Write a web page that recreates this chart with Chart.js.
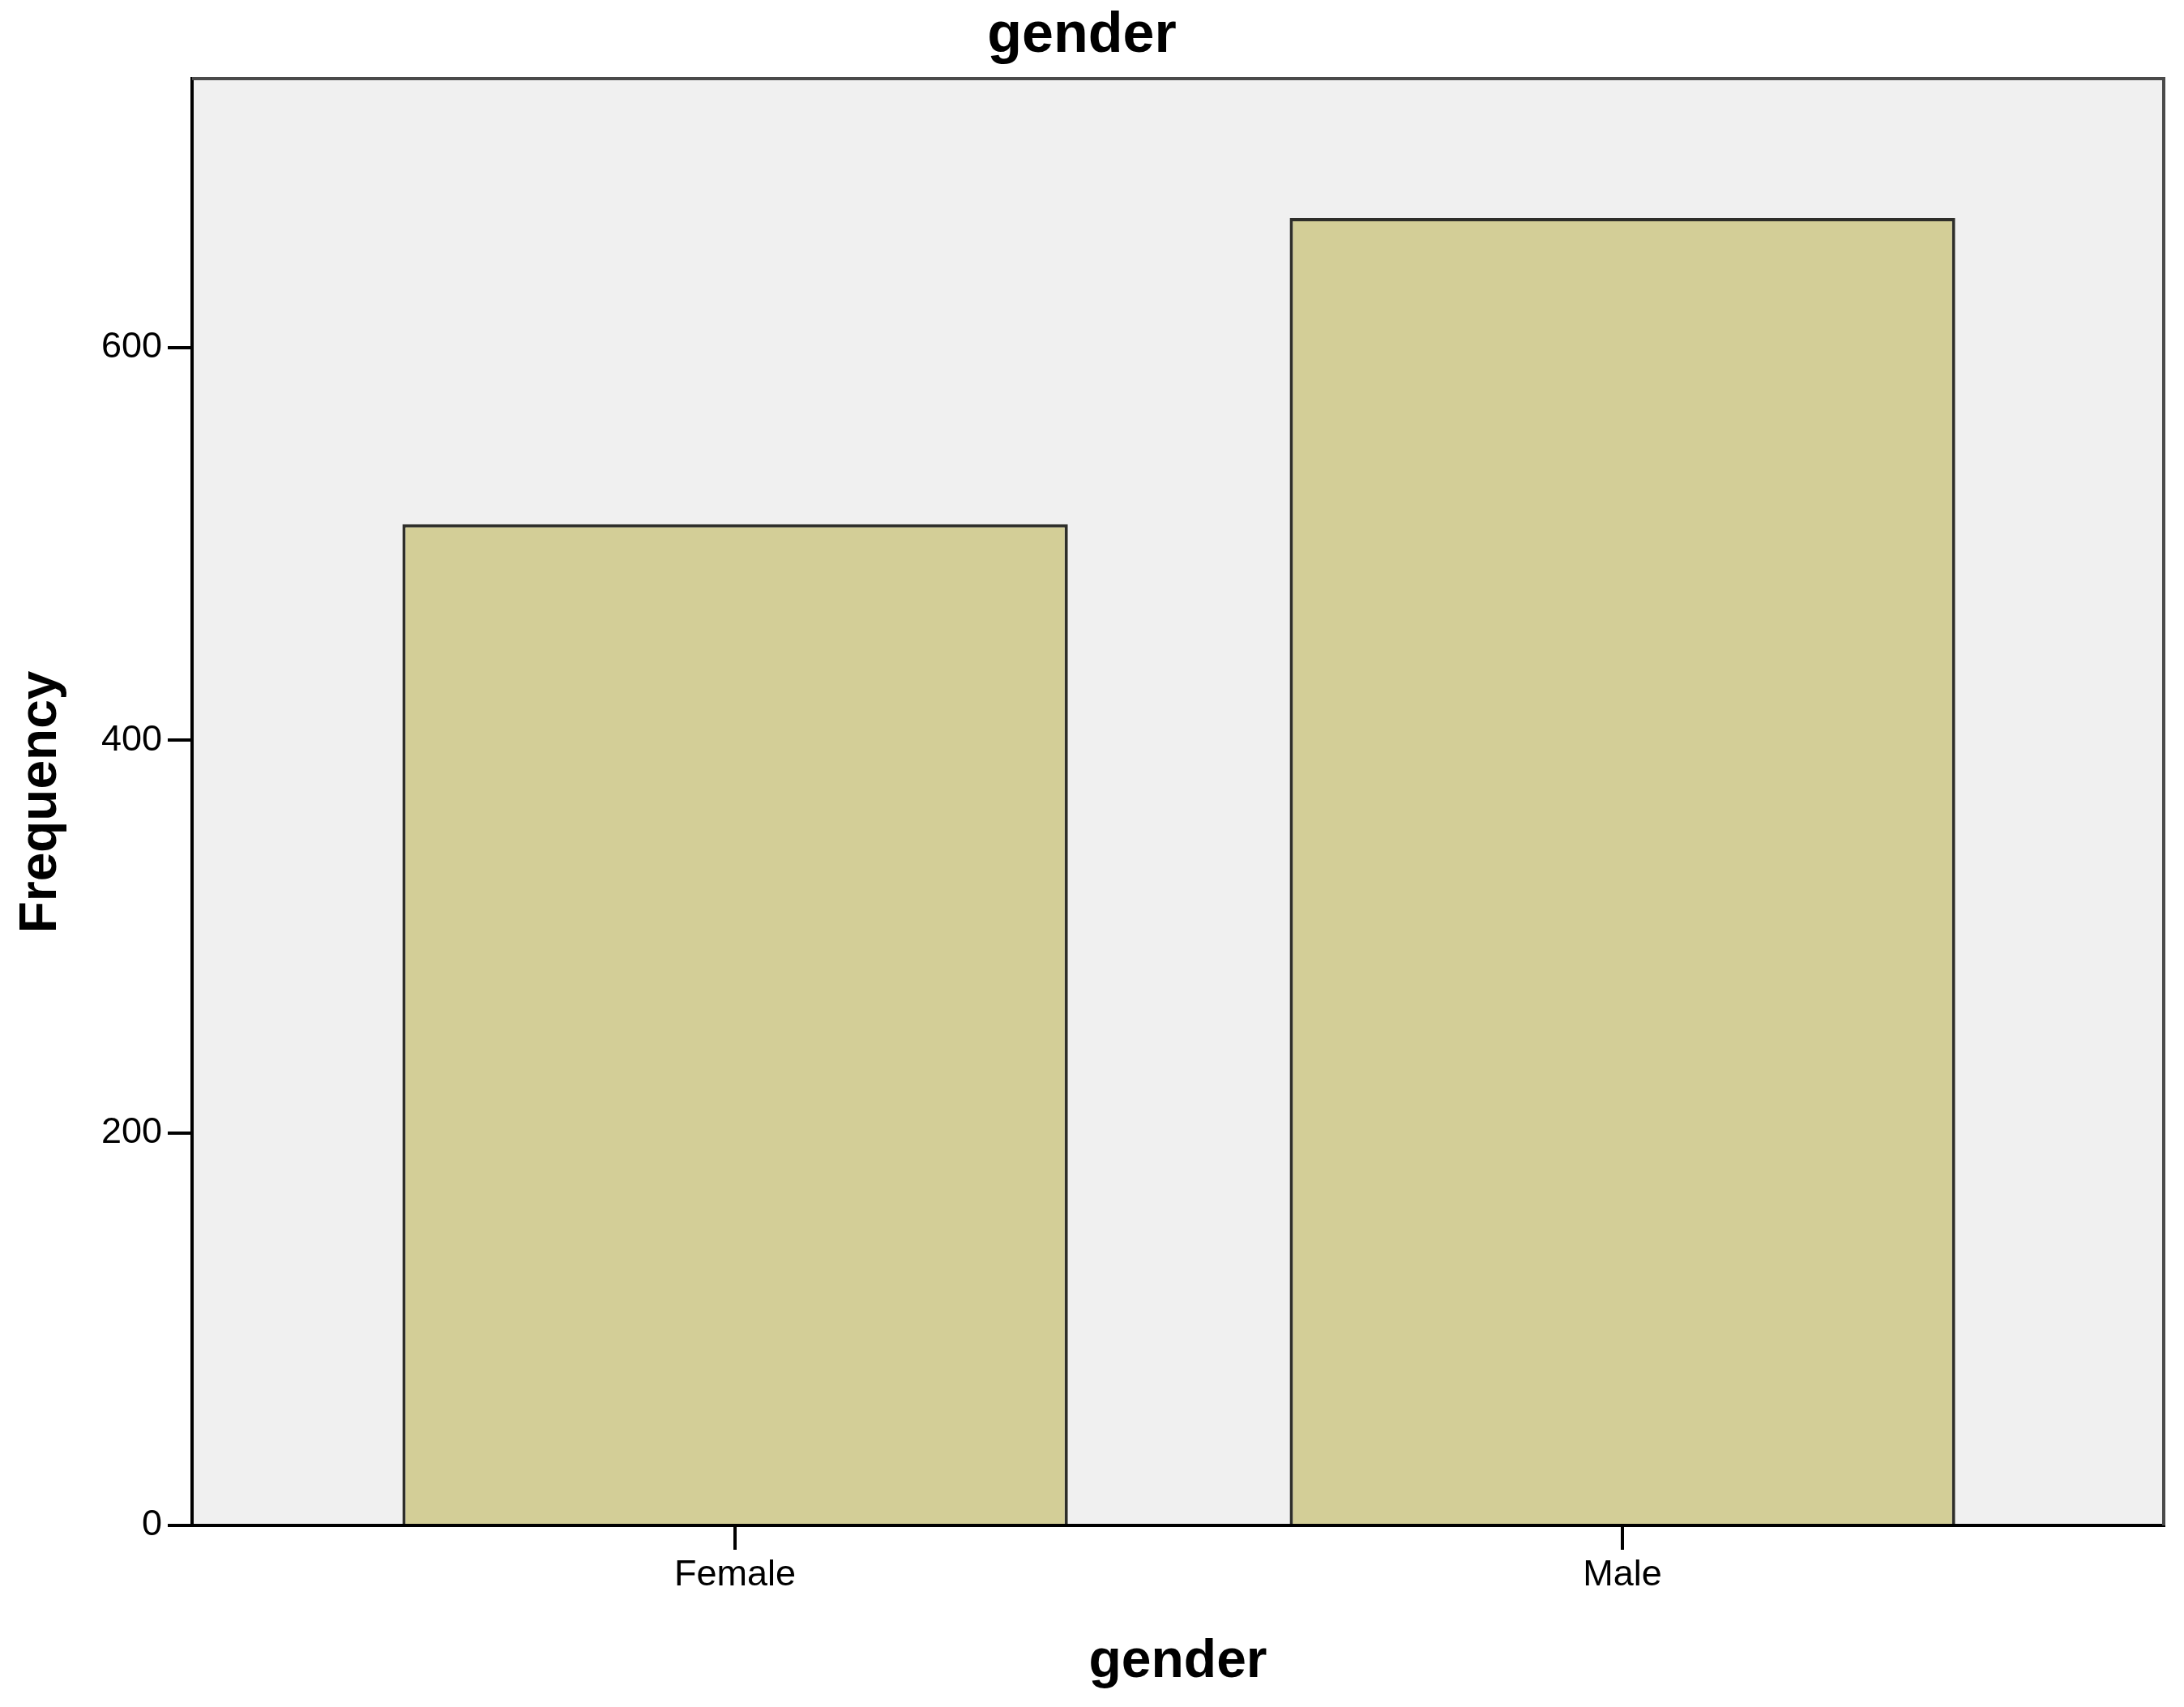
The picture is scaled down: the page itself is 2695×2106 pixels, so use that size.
<!DOCTYPE html>
<html>
<head>
<meta charset="utf-8">
<title>gender</title>
<script src="https://cdn.jsdelivr.net/npm/chart.js@4.4.0/dist/chart.umd.min.js"></script>
<style>
body { margin: 0; background: #ffffff; }
</style>
</head>
<body>
<canvas id="myChart" width="2695" height="2106"></canvas>
<script>
// Data
const categories = ["Female", "Male"];
const frequencies = [510, 666];
const yTicks = [0, 200, 400, 600];
const yMax = 737;

const fontFamily = "'Liberation Sans', Arial, sans-serif";

// grey plot background and the top/right frame lines
const plotFrame = {
    id: 'plotFrame',
    beforeDraw(chart) {
        const a = chart.chartArea;
        const ctx = chart.ctx;
        ctx.save();
        ctx.fillStyle = '#f0f0f0';
        ctx.fillRect(a.left, a.top, a.right - a.left, a.bottom - a.top);
        ctx.restore();
    },
    afterDraw(chart) {
        const a = chart.chartArea;
        const ctx = chart.ctx;
        ctx.save();
        ctx.strokeStyle = '#4a4a4a';
        ctx.lineWidth = 4;
        ctx.beginPath();
        ctx.moveTo(a.left, a.top);
        ctx.lineTo(a.right, a.top);
        ctx.lineTo(a.right, a.bottom);
        ctx.stroke();
        ctx.restore();
    }
};

const ctx = document.getElementById('myChart').getContext('2d');
const myChart = new Chart(ctx, {
    type: 'bar',
    data: {
        datasets: [{
            label: 'Frequency',
            data: frequencies.map((v, i) => ({ x: i, y: v })),
            backgroundColor: '#d3ce97',
            borderColor: '#2e2e2a',
            borderWidth: 4,
            borderSkipped: 'bottom',
            barPercentage: 0.75,
            categoryPercentage: 1
        }]
    },
    options: {
        responsive: false,
        animation: false,
        layout: { padding: { left: 0, right: 25, top: 0, bottom: 0 } },
        plugins: {
            legend: { display: false },
            tooltip: { enabled: false },
            title: {
                display: true,
                text: 'gender',
                color: '#000000',
                font: { family: fontFamily, size: 70, weight: 'bold' },
                padding: { top: 3, bottom: 10 }
            }
        },
        scales: {
            x: {
                type: 'linear',
                min: -0.612,
                max: 1.61,
                offset: false,
                afterBuildTicks: (scale) => {
                    scale.ticks = categories.map((c, i) => ({ value: i }));
                },
                afterFit: (scale) => { scale.height = 224; },
                ticks: {
                    color: '#000000',
                    font: { family: fontFamily, size: 45 },
                    padding: 5,
                    maxRotation: 0,
                    callback: (value) => categories[value]
                },
                grid: {
                    offset: false,
                    drawOnChartArea: false,
                    drawTicks: true,
                    tickLength: 30,
                    color: '#000000',
                    lineWidth: 4
                },
                border: { display: true, color: '#000000', width: 4 },
                title: {
                    display: true,
                    text: 'gender',
                    color: '#000000',
                    font: { family: fontFamily, size: 66, weight: 'bold' },
                    padding: { top: 0, bottom: 16 }
                }
            },
            y: {
                min: 0,
                max: yMax,
                afterBuildTicks: (scale) => {
                    scale.ticks = yTicks.map(v => ({ value: v }));
                },
                afterFit: (scale) => { scale.width = 237; },
                ticks: {
                    color: '#000000',
                    font: { family: fontFamily, size: 45 },
                    padding: 7
                },
                grid: {
                    drawOnChartArea: false,
                    drawTicks: true,
                    tickLength: 30,
                    color: '#000000',
                    lineWidth: 4
                },
                border: { display: true, color: '#000000', width: 4 },
                title: {
                    display: true,
                    text: 'Frequency',
                    color: '#000000',
                    font: { family: fontFamily, size: 64, weight: 'bold' },
                    padding: { top: 13, bottom: 0 }
                }
            }
        }
    },
    plugins: [plotFrame]
});
</script>
</body>
</html>
